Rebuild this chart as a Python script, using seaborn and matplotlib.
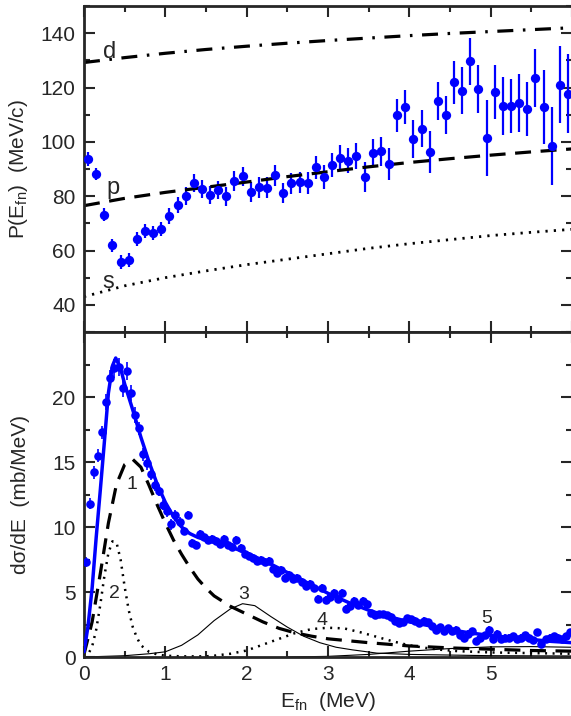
import numpy as np
import pandas as pd
import seaborn as sns
import matplotlib.pyplot as plt
from matplotlib.ticker import MultipleLocator, FuncFormatter

# ---- top panel: P(E_fn) data ----
e_top = [0.05, 0.15, 0.25, 0.35, 0.45, 0.55, 0.65, 0.75, 0.85, 0.95,
         1.05, 1.15, 1.25, 1.35, 1.45, 1.55, 1.65, 1.75, 1.85, 1.95,
         2.05, 2.15, 2.25, 2.35, 2.45, 2.55, 2.65, 2.75, 2.85, 2.95,
         3.05, 3.15, 3.25, 3.35, 3.45, 3.55, 3.65, 3.75, 3.85, 3.95,
         4.05, 4.15, 4.25, 4.35, 4.45, 4.55, 4.65, 4.75, 4.85, 4.95,
         5.05, 5.15, 5.25, 5.35, 5.45, 5.55, 5.65, 5.75, 5.85, 5.95]
p_top = [93.6, 88.1, 73.2, 61.9, 55.7, 56.4, 64.3, 67.2, 66.5, 67.9,
         72.6, 76.7, 80.0, 84.8, 82.8, 80.4, 82.3, 79.9, 85.5, 87.3,
         81.6, 83.2, 83.1, 87.7, 81.2, 84.8, 85.1, 84.8, 90.7, 87.0,
         91.5, 94.1, 93.0, 94.7, 87.0, 96.0, 96.5, 91.9, 109.8, 112.7,
         100.9, 104.9, 96.4, 115.1, 109.9, 121.9, 118.9, 129.6, 119.4, 101.5,
         118.3, 113.2, 113.3, 114.3, 112.1, 123.5, 112.7, 98.4, 121.1, 117.7]
err_top = [2.5, 2.2, 2.3, 2.4, 2.5, 2.5, 2.5, 2.6, 2.6, 2.7,
           3.0, 3.0, 3.2, 3.3, 3.3, 3.4, 3.4, 3.5, 3.6, 3.6,
           3.7, 3.7, 3.8, 3.8, 3.8, 3.9, 3.9, 4.0, 4.2, 4.3,
           4.5, 4.6, 4.6, 4.8, 5.5, 5.0, 5.3, 5.8, 6.0, 6.3,
           7.0, 6.7, 7.7, 7.0, 7.0, 7.8, 8.6, 8.6, 8.8, 14.0,
           10.0, 10.5, 10.0, 10.5, 10.0, 10.6, 13.6, 14.3, 14.0, 14.5]

# theory curves for s, p, d
e_th = [0.0, 0.5, 1.0, 1.5, 2.0, 2.5, 3.0, 3.5, 4.0, 4.5, 5.0, 5.5, 6.0]
p_s = [43.0, 47.0, 50.0, 52.5, 54.8, 56.8, 58.8, 60.8, 62.5, 64.0, 65.5, 66.7, 67.8]
p_p = [76.5, 79.2, 81.4, 83.3, 85.2, 87.2, 89.0, 90.8, 92.4, 93.8, 95.1, 96.3, 97.4]
p_d = [129.2, 131.0, 132.6, 134.0, 135.2, 136.3, 137.3, 138.2, 139.1, 139.9, 140.6, 141.3, 142.0]

# ---- bottom panel: dsigma/dE data ----
e_bot = [0.025 + 0.05 * i for i in range(120)]
xs_bot = [7.3, 11.8, 14.2, 15.5, 17.3, 19.6, 21.5, 22.2, 22.3, 20.7,
          22.0, 20.3, 18.6, 17.6, 15.6, 14.9, 14.1, 13.2, 12.8, 11.7,
          11.2, 10.2, 10.9, 10.4, 9.7, 10.9, 8.8, 8.6, 9.5, 9.2,
          9.0, 9.1, 8.9, 8.7, 9.1, 8.6, 8.5, 9.0, 8.4, 7.9,
          7.8, 7.6, 7.4, 7.5, 7.3, 7.4, 6.8, 6.5, 6.7, 6.1,
          6.3, 6.0, 6.1, 5.8, 5.5, 5.6, 5.3, 4.5, 5.3, 4.4,
          4.6, 4.9, 4.5, 4.9, 3.7, 3.9, 4.3, 4.0, 4.3, 4.1,
          3.4, 3.2, 3.3, 3.3, 3.2, 3.1, 2.8, 2.6, 2.7, 3.0,
          2.9, 2.8, 2.6, 2.8, 2.7, 2.4, 2.1, 2.3, 2.0, 2.2,
          2.0, 2.1, 1.7, 1.5, 1.8, 2.0, 1.2, 1.5, 1.7, 2.1,
          1.4, 1.8, 1.4, 1.5, 1.5, 1.6, 1.4, 1.5, 1.7, 1.5,
          1.3, 1.9, 1.0, 1.4, 1.5, 1.6, 1.5, 1.4, 1.6, 1.9]
err_bot = [0.4, 0.4, 0.5, 0.5, 0.5, 0.6, 0.6, 0.7, 0.7, 0.7,
           0.7, 0.6, 0.6, 0.5, 0.5, 0.5, 0.5, 0.4, 0.4, 0.4,
           0.4, 0.4, 0.4, 0.4, 0.3, 0.3, 0.3, 0.3, 0.3, 0.3,
           0.3, 0.3, 0.3, 0.3, 0.3, 0.3, 0.3, 0.3, 0.3, 0.3,
           0.3, 0.3, 0.3, 0.3, 0.3, 0.3, 0.3, 0.3, 0.3, 0.3,
           0.3, 0.3, 0.3, 0.3, 0.3, 0.3, 0.3, 0.3, 0.3, 0.3,
           0.3, 0.3, 0.3, 0.3, 0.3, 0.3, 0.3, 0.3, 0.3, 0.3,
           0.25, 0.25, 0.25, 0.25, 0.25, 0.25, 0.25, 0.25, 0.25, 0.25,
           0.25, 0.25, 0.25, 0.25, 0.25, 0.25, 0.25, 0.25, 0.25, 0.25,
           0.25, 0.25, 0.25, 0.25, 0.25, 0.25, 0.25, 0.25, 0.25, 0.25,
           0.25, 0.25, 0.25, 0.25, 0.25, 0.25, 0.25, 0.25, 0.25, 0.25,
           0.25, 0.25, 0.25, 0.25, 0.25, 0.25, 0.25, 0.25, 0.25, 0.25]

# total fit (blue)
e_fit = [0.0, 0.05, 0.1, 0.15, 0.2, 0.25, 0.3, 0.35, 0.39, 0.45, 0.5, 0.55, 0.6,
         0.7, 0.8, 0.9, 1.0, 1.1, 1.2, 1.3, 1.4, 1.5, 1.75, 2.0, 2.25, 2.5,
         2.75, 3.0, 3.25, 3.5, 3.75, 4.0, 4.25, 4.5, 4.75, 5.0, 5.25, 5.5, 5.75, 6.0]
xs_fit = [0.4, 2.4, 5.3, 9.2, 12.8, 16.5, 20.3, 22.4, 23.0, 22.2, 21.0, 20.0, 19.0,
          16.9, 15.0, 13.3, 11.9, 10.8, 10.0, 9.5, 9.2, 9.0, 8.6, 8.0, 7.3, 6.5,
          5.7, 4.9, 4.2, 3.6, 3.1, 2.7, 2.4, 2.1, 1.85, 1.65, 1.5, 1.35, 1.2, 1.1]

# component 1 (dashed)
e_c1 = [0.0, 0.1, 0.2, 0.3, 0.4, 0.5, 0.6, 0.7, 0.8, 0.9, 1.0, 1.1, 1.2, 1.3,
        1.4, 1.5, 1.6, 1.8, 2.0, 2.2, 2.4, 2.6, 2.8, 3.0, 3.5, 4.0, 4.5, 5.0, 5.5, 6.0]
xs_c1 = [0.2, 2.7, 6.4, 10.3, 13.3, 14.8, 15.2, 14.6, 13.2, 11.7, 10.3, 9.0, 7.9, 6.9,
         6.0, 5.3, 4.7, 3.9, 3.3, 2.7, 2.2, 1.85, 1.6, 1.4, 1.1, 0.85, 0.7, 0.6, 0.5, 0.45]

# components 2 and 4 (dotted)
e_c24 = [0.0, 0.05, 0.1, 0.15, 0.2, 0.25, 0.3, 0.35, 0.4, 0.45, 0.5, 0.55, 0.6,
         0.65, 0.7, 0.8, 0.9, 1.0, 1.2, 1.5, 1.6, 1.8, 2.0, 2.2, 2.4, 2.6, 2.8,
         3.0, 3.2, 3.4, 3.6, 3.8, 4.0, 4.2, 4.4, 4.6, 5.0, 5.5, 6.0]
xs_c24 = [0.0, 0.2, 0.8, 2.1, 4.0, 6.2, 8.0, 8.9, 8.8, 7.5, 5.4, 3.6, 2.3,
          1.5, 0.9, 0.4, 0.2, 0.1, 0.05, 0.05, 0.1, 0.25, 0.5, 0.95, 1.4, 1.85, 2.15,
          2.25, 2.2, 1.9, 1.55, 1.2, 0.9, 0.7, 0.55, 0.45, 0.35, 0.3, 0.25]

# component 3 (thin solid)
e_c3 = [0.0, 0.5, 0.8, 1.0, 1.2, 1.4, 1.6, 1.8, 1.95, 2.1, 2.3, 2.5, 2.7, 2.9,
        3.1, 3.3, 3.6, 4.0, 4.5, 5.0, 6.0]
xs_c3 = [0.0, 0.1, 0.25, 0.4, 0.9, 1.7, 2.8, 3.7, 4.1, 3.95, 3.1, 2.3, 1.6, 1.1,
         0.75, 0.55, 0.3, 0.2, 0.15, 0.1, 0.08]

# component 5 (thin solid)
e_c5 = [2.5, 3.0, 3.5, 4.0, 4.5, 5.0, 5.5, 6.0]
xs_c5 = [0.0, 0.05, 0.2, 0.45, 0.65, 0.78, 0.8, 0.75]

sns.set_style("ticks")
plt.rcParams['font.family'] = ['Liberation Sans', 'DejaVu Sans']
plt.rcParams['mathtext.fontset'] = 'custom'
plt.rcParams['mathtext.rm'] = 'Liberation Sans'
plt.rcParams['mathtext.it'] = 'Liberation Sans'

fig = plt.figure(figsize=(5.71, 7.16), dpi=100)
ax1 = fig.add_axes([0.1471, 0.5363, 0.8546, 0.4553])
ax2 = fig.add_axes([0.1471, 0.0824, 0.8546, 0.4539])

blue = '#0000ff'

# top panel
top = pd.DataFrame({'E': e_top, 'P': p_top})
ax1.errorbar(e_top, p_top, yerr=err_top, fmt='none', ecolor=blue, elinewidth=1.6, zorder=2)
sns.scatterplot(data=top, x='E', y='P', ax=ax1, color=blue, s=45, edgecolor=blue,
                linewidth=0, zorder=3)
sns.lineplot(x=e_th, y=p_s, ax=ax1, color='black', lw=2, estimator=None)
sns.lineplot(x=e_th, y=p_p, ax=ax1, color='black', lw=2.3, estimator=None)
sns.lineplot(x=e_th, y=p_d, ax=ax1, color='black', lw=2.3, estimator=None)
ax1.lines[-3].set_linestyle((0, (0.8, 2.2)))
ax1.lines[-2].set_linestyle((0, (5, 3)))
ax1.lines[-1].set_linestyle((0, (5, 3, 0.8, 3)))
ax1.text(0.32, 133, 'd', fontsize=17, ha='center', va='center')
ax1.text(0.36, 83, 'p', fontsize=17, ha='center', va='center')
ax1.text(0.3, 48.5, 's', fontsize=17, ha='center', va='center')

ax1.set_xlim(0, 6)
ax1.set_ylim(30, 150)
ax1.yaxis.set_major_locator(MultipleLocator(20))
ax1.yaxis.set_minor_locator(MultipleLocator(10))
ax1.set_ylabel(r'P(E$_{\rm fn}$)  (MeV/c)', fontsize=15)
ax1.yaxis.set_label_coords(-0.11, 0.5)
ax1.set_xlabel('')
ax1.tick_params(labelbottom=False)

# bottom panel
bot = pd.DataFrame({'E': e_bot, 'xs': xs_bot})
ax2.errorbar(e_bot, xs_bot, yerr=err_bot, fmt='none', ecolor=blue, elinewidth=1.2, zorder=2)
sns.scatterplot(data=bot, x='E', y='xs', ax=ax2, color=blue, s=38, edgecolor=blue,
                linewidth=0, zorder=3)
sns.lineplot(x=e_fit, y=xs_fit, ax=ax2, color=blue, lw=2.5, estimator=None, sort=False, zorder=4)
sns.lineplot(x=e_c1, y=xs_c1, ax=ax2, color='black', lw=2.3, estimator=None, sort=False)
ax2.lines[-1].set_linestyle((0, (5, 3)))
sns.lineplot(x=e_c24, y=xs_c24, ax=ax2, color='black', lw=1.8, estimator=None, sort=False)
ax2.lines[-1].set_linestyle((0, (0.8, 2.2)))
sns.lineplot(x=e_c3, y=xs_c3, ax=ax2, color='black', lw=0.8, estimator=None, sort=False)
sns.lineplot(x=e_c5, y=xs_c5, ax=ax2, color='black', lw=0.8, estimator=None, sort=False)

for lab, ex, ey in [('1', 0.59, 13.3), ('2', 0.37, 4.9), ('3', 1.96, 4.8),
                    ('4', 2.93, 2.8), ('5', 4.95, 3.0)]:
    ax2.text(ex, ey, lab, fontsize=14, ha='center', va='center', fontweight='light')

ax2.set_xlim(0, 6)
ax2.set_ylim(0, 25)
ax2.yaxis.set_major_locator(MultipleLocator(5))
ax2.yaxis.set_minor_locator(MultipleLocator(2.5))
ax2.set_ylabel('dσ/dE  (mb/MeV)', fontsize=15)
ax2.yaxis.set_label_coords(-0.11, 0.5)
ax2.set_xlabel(r'E$_{\rm fn}$  (MeV)', fontsize=15)

# no labels at the outer limits (6 on x, 25 on bottom y)
ax2.xaxis.set_major_formatter(FuncFormatter(lambda v, p: '' if v > 5.5 else f'{v:g}'))
ax2.yaxis.set_major_formatter(FuncFormatter(lambda v, p: '' if v > 22 else f'{v:g}'))
ax1.yaxis.set_major_formatter(FuncFormatter(lambda v, p: '' if v > 145 else f'{v:g}'))

for ax in (ax1, ax2):
    ax.xaxis.set_major_locator(MultipleLocator(1))
    ax.xaxis.set_minor_locator(MultipleLocator(0.5))
    ax.tick_params(which='both', direction='in', top=True, right=True, labelsize=15, pad=6)
    ax.tick_params(which='major', length=8, width=1.5)
    ax.tick_params(which='minor', length=4, width=1.5)
    for sp in ax.spines.values():
        sp.set_linewidth(2)
        sp.set_visible(True)

fig.savefig('out.png', dpi=100)
